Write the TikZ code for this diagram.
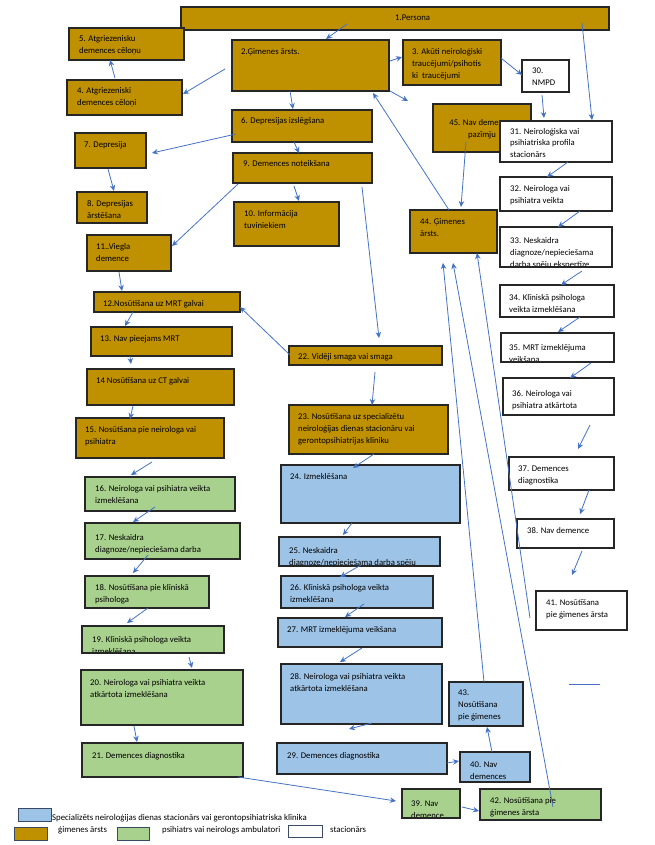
\documentclass[tikz,border=0pt]{standalone}
\usepackage{fontspec}
\setmainfont{Carlito}
\usetikzlibrary{arrows.meta}
\definecolor{goldf}{HTML}{BF9000}
\definecolor{greenf}{HTML}{A9D18E}
\definecolor{bluef}{HTML}{9DC3E6}
\definecolor{arrowblue}{HTML}{4472C4}
\definecolor{legb}{HTML}{3A4A66}
\begin{document}
\begin{tikzpicture}[x=1pt,y=-1pt,
  bx/.style={draw=black!85, line width=1.2pt, anchor=north west, inner sep=0pt, outer sep=0pt},
  goldbox/.style={bx, fill=goldf},
  greenbox/.style={bx, fill=greenf},
  bluebox/.style={bx, fill=bluef},
  whitebox/.style={bx, fill=white},
  tx/.style={anchor=base west, inner sep=0pt, align=left, font=\fontsize{8.7}{12}\selectfont},
  lt/.style={anchor=base west, inner sep=0pt, font=\fontsize{8.8}{10}\selectfont},
  legbox/.style={line width=0.8pt, draw=legb},
  arr/.style={draw=arrowblue, line width=0.8pt, -{Stealth[length=6pt,width=5.5pt]}},
  plainline/.style={draw=arrowblue, line width=0.8pt},
  ]
\useasboundingbox (0,0) rectangle (655,845);

% ---------- boxes (multi-line texts are placed by the baseline of their last line) ----------
\node[goldbox, minimum width=428pt, minimum height=23pt] (b1) at (181,7) {};
\node[tx] (t1) at (395,21) {1.Persona};
\node[goldbox, minimum width=157pt, minimum height=51pt] (b2) at (232,40) {};
\node[tx] (t2) at (241,55) {2.Ģimenes ārsts.};
\node[goldbox, minimum width=98pt, minimum height=45pt] (b3) at (403,40) {};
\node[tx] (t3) at (412,79) {3. Akūti neiroloģiski\\traucējumi/psihotis\\ki\ \ traucējumi};
\node[goldbox, minimum width=115pt, minimum height=35pt] (b4) at (67,80) {};
\node[tx] (t4) at (77,106) {4. Atgriezeniski\\demences cēloņi};
\node[goldbox, minimum width=115pt, minimum height=32pt] (b5) at (69,28) {};
\node[tx] (t5) at (79,54) {5. Atgriezenisku\\demences cēloņu};
\node[goldbox, minimum width=140pt, minimum height=32pt] (b6) at (232,110) {};
\node[tx] (t6) at (241,124) {6. Depresijas izslēgšana};
\node[goldbox, minimum width=71pt, minimum height=35pt] (b7) at (75,133) {};
\node[tx] (t7) at (84,148) {7. Depresija};
\node[goldbox, minimum width=70pt, minimum height=31pt] (b8) at (77,192) {};
\node[tx] (t8) at (87,218) {8. Depresijas\\ārstēšana};
\node[goldbox, minimum width=139pt, minimum height=30pt] (b9) at (233,153) {};
\node[tx] (t9) at (243,167) {9. Demences noteikšana};
\node[goldbox, minimum width=105pt, minimum height=44pt] (b10) at (234,202) {};
\node[tx] (t10) at (244,228) {10. Informācija\\tuviniekiem};
\node[goldbox, minimum width=84pt, minimum height=36pt] (b11) at (87,235) {};
\node[tx] (t11) at (96,261) {11..Viegla\\demence};
\node[goldbox, minimum width=146pt, minimum height=20pt] (b12) at (94,292) {};
\node[tx] (t12) at (103,306) {12.Nosūtīšana uz MRT galvai};
\node[goldbox, minimum width=141pt, minimum height=29pt] (b13) at (91,327) {};
\node[tx] (t13) at (100,341) {13. Nav pieejams MRT};
\node[goldbox, minimum width=147pt, minimum height=36pt] (b14) at (87,369) {};
\node[tx] (t14) at (96,383) {14 Nosūtīšana uz CT galvai};
\node[goldbox, minimum width=148pt, minimum height=40pt] (b15) at (76,418) {};
\node[tx] (t15) at (85,444) {15. Nosūtšana pie neirologa vai\\psihiatra};
\node[goldbox, minimum width=153pt, minimum height=19pt] (b22) at (289,346) {};
\node[tx] (t22) at (298,359) {22. Vidēji smaga vai smaga};
\node[goldbox, minimum width=159pt, minimum height=49pt] (b23) at (289,405) {};
\node[tx] (t23) at (298,443) {23. Nosūtīšana uz specializētu\\neiroloģijas dienas stacionāru vai\\gerontopsihiatrijas klīniku};
\node[goldbox, minimum width=87pt, minimum height=43pt] (b44) at (410,210) {};
\node[tx] (t44) at (420,236) {44. Ģimenes\\ārsts.};
\node[goldbox, minimum width=98pt, minimum height=48pt] (b45) at (433,104) {};
\node[tx, anchor=base, align=center] (t45) at (482,138) {45. Nav demences\\pazīmju};

% green
\node[greenbox, minimum width=150pt, minimum height=34pt] (b16) at (85,477) {};
\node[tx] (t16) at (95,503) {16. Neirologa vai psihiatra veikta\\izmeklēšana};
\node[greenbox, minimum width=155pt, minimum height=36pt] (b17) at (85,523) {};
\begin{scope}
\clip ([shift={(1.2,1.2)}]b17.north west) rectangle ([shift={(-1.2,-1.2)}]b17.south east);
\node[tx] (t17) at (95,564) {17. Neskaidra\\diagnoze/nepieciešama darba\\spēju ekspertīze};
\end{scope}
\node[greenbox, minimum width=124pt, minimum height=32pt] (b18) at (85,576) {};
\node[tx] (t18) at (95,602) {18. Nosūtīšana pie klīniskā\\psihologa};
\node[greenbox, minimum width=142pt, minimum height=27pt] (b19) at (82,626) {};
\begin{scope}
\clip ([shift={(1.2,1.2)}]b19.north west) rectangle ([shift={(-1.2,-1.2)}]b19.south east);
\node[tx] (t19) at (92,654) {19. Klīniskā psihologa veikta\\izmeklēšana};
\end{scope}
\node[greenbox, minimum width=162pt, minimum height=55pt] (b20) at (81,670) {};
\node[tx] (t20) at (90,697) {20. Neirologa vai psihiatra veikta\\atkārtota izmeklēšana};
\node[greenbox, minimum width=161pt, minimum height=34pt] (b21) at (82,743) {};
\node[tx] (t21) at (92,758) {21. Demences diagnostika};
\node[greenbox, minimum width=58pt, minimum height=29pt] (b39) at (402,789) {};
\begin{scope}
\clip ([shift={(1.2,1.2)}]b39.north west) rectangle ([shift={(-1.2,-1.2)}]b39.south east);
\node[tx] (t39) at (411,818) {39. Nav\\demence};
\end{scope}
\node[greenbox, minimum width=121pt, minimum height=31pt] (b42) at (480,789) {};
\node[tx] (t42) at (490,815) {42. Nosūtīšana pie\\ģimenes ārsta};

% blue
\node[bluebox, minimum width=179pt, minimum height=58pt] (b24) at (281,465) {};
\node[tx] (t24) at (290,479) {24. Izmeklēšana};
\node[bluebox, minimum width=161pt, minimum height=29pt] (b25) at (279,537) {};
\begin{scope}
\clip ([shift={(1.2,1.2)}]b25.north west) rectangle ([shift={(-1.2,-1.2)}]b25.south east);
\node[tx] (t25) at (289,565) {25. Neskaidra\\diagnoze/nepieciešama darba spēju};
\end{scope}
\node[bluebox, minimum width=152pt, minimum height=32pt] (b26) at (281,576) {};
\node[tx] (t26) at (290,602) {26. Klīniskā psihologa veikta\\izmeklēšana};
\node[bluebox, minimum width=164pt, minimum height=29pt] (b27) at (278,618) {};
\node[tx] (t27) at (287,632) {27. MRT izmeklējuma veikšana};
\node[bluebox, minimum width=161pt, minimum height=60pt] (b28) at (281,664) {};
\node[tx] (t28) at (290,691) {28. Neirologa vai psihiatra veikta\\atkārtota izmeklēšana};
\node[bluebox, minimum width=170pt, minimum height=31pt] (b29) at (277,743) {};
\node[tx] (t29) at (287,758) {29. Demences diagnostika};
\node[bluebox, minimum width=74pt, minimum height=44pt] (b43) at (449,682) {};
\node[tx] (t43) at (458,719) {43.\\Nosūtīšana\\pie ģimenes};
\node[bluebox, minimum width=70pt, minimum height=30pt] (b40) at (460,752) {};
\node[tx] (t40) at (470,779) {40. Nav\\demences};

% white
\node[whitebox, minimum width=47pt, minimum height=32pt] (b30) at (522,60) {};
\node[tx] (t30) at (532,86) {30.\\NMPD};
\node[whitebox, minimum width=112pt, minimum height=41pt] (b31) at (500,121) {};
\node[tx] (t31) at (510,158) {31. Neiroloģiska vai\\psihiatriska profila\\stacionārs};
\node[whitebox, minimum width=112pt, minimum height=34pt] (b32) at (500,177) {};
\node[tx] (t32) at (510,203) {32. Neirologa vai\\psihiatra veikta};
\node[whitebox, minimum width=112pt, minimum height=40pt] (b33) at (500,227) {};
\begin{scope}
\clip ([shift={(1.2,1.2)}]b33.north west) rectangle ([shift={(-1.2,-1.2)}]b33.south east);
\node[tx] (t33) at (510,267) {33. Neskaidra\\diagnoze/nepieciešama\\darba spēju ekspertīze};
\end{scope}
\node[whitebox, minimum width=114pt, minimum height=32pt] (b34) at (500,285) {};
\node[tx] (t34) at (509,312) {34. Klīniskā psihologa\\veikta izmeklēšana};
\node[whitebox, minimum width=113pt, minimum height=29pt] (b35) at (501,333) {};
\begin{scope}
\clip ([shift={(1.2,1.2)}]b35.north west) rectangle ([shift={(-1.2,-1.2)}]b35.south east);
\node[tx] (t35) at (509,362) {35. MRT izmeklējuma\\veikšana};
\end{scope}
\node[whitebox, minimum width=111pt, minimum height=37pt] (b36) at (503,378) {};
\begin{scope}
\clip ([shift={(1.2,1.2)}]b36.north west) rectangle ([shift={(-1.2,-1.2)}]b36.south east);
\node[tx] (t36) at (512,420) {36. Neirologa vai\\psihiatra atkārtota\\izmeklēšana};
\end{scope}
\node[whitebox, minimum width=105pt, minimum height=33pt] (b37) at (509,457) {};
\node[tx] (t37) at (518,483) {37. Demences\\diagnostika};
\node[whitebox, minimum width=97pt, minimum height=29pt] (b38) at (517,519) {};
\node[tx] (t38) at (527,533) {38. Nav demence};
\node[whitebox, minimum width=91pt, minimum height=39pt] (b41) at (536,591) {};
\node[tx] (t41) at (546,617) {41. Nosūtīšana\\pie ģimenes ārsta};

% ---------- connectors ----------
\draw[arr] ([shift={(166,17)}]b1.north west) -- ([shift={(94,-1)}]b2.north west);
\draw[arr] ([shift={(-7,29)}]b2.north west) -- ([shift={(116,14)}]b4.north west);
\draw[arr] ([shift={(48,-2)}]b4.north west) -- ([shift={(41,32)}]b5.north west);
\draw[arr] ([shift={(58,51)}]b2.north west) -- ([shift={(61,-1)}]b6.north west);
\draw[arr] ([shift={(158,21)}]b2.north west) -- ([shift={(-1,17)}]b3.north west);
\draw[arr] ([shift={(158,51)}]b2.north west) -- ([shift={(-25,-3)}]b45.north west);
\draw[arr] ([shift={(98,18)}]b3.north west) -- ([shift={(0,15)}]b30.north west);
\draw[arr] ([shift={(20,35)}]b30.north west) -- ([shift={(44,-3)}]b31.north west);
\draw[arr] ([shift={(401,16)}]b1.north west) -- ([shift={(92,-1)}]b31.north west);
\draw[arr] ([shift={(39,0)}]b44.north west) -- ([shift={(141,53)}]b2.north west);
\draw[arr] ([shift={(33,38)}]b45.north west) -- ([shift={(51,-3)}]b44.north west);
\draw[arr] ([shift={(68,41)}]b31.north west) -- ([shift={(47,0)}]b32.north west);
\draw[arr] ([shift={(80,34)}]b32.north west) -- ([shift={(58,0)}]b33.north west);
\draw[arr] ([shift={(82,44)}]b33.north west) -- ([shift={(61,0)}]b34.north west);
\draw[arr] ([shift={(80,32)}]b34.north west) -- ([shift={(57,-1)}]b35.north west);
\draw[arr] ([shift={(90,30)}]b35.north west) -- ([shift={(67,0)}]b36.north west);
\draw[arr] ([shift={(87,47)}]b36.north west) -- ([shift={(69,-8)}]b37.north west);
\draw[arr] ([shift={(80,33)}]b37.north west) -- ([shift={(63,-5)}]b38.north west);
\draw[arr] ([shift={(65,32)}]b38.north west) -- ([shift={(36,-16)}]b41.north west);
\draw[arr] ([shift={(4,24)}]b6.north west) -- ([shift={(77,20)}]b7.north west);
\draw[arr] ([shift={(62,32)}]b6.north west) -- ([shift={(66,0)}]b9.north west);
\draw[arr] ([shift={(33,36)}]b7.north west) -- ([shift={(37,-1)}]b8.north west);
\draw[arr] ([shift={(61,33)}]b9.north west) -- ([shift={(65,-1)}]b10.north west);
\draw[arr] ([shift={(5,31)}]b9.north west) -- ([shift={(85,11)}]b11.north west);
\draw[arr] ([shift={(129,34)}]b9.north west) -- ([shift={(90,-8)}]b22.north west);
\draw[arr] ([shift={(32,37)}]b11.north west) -- ([shift={(28,-1)}]b12.north west);
\draw[arr] ([shift={(39,20)}]b12.north west) -- ([shift={(34,-1)}]b13.north west);
\draw[arr] ([shift={(39,29)}]b13.north west) -- ([shift={(44,-5)}]b14.north west);
\draw[arr] ([shift={(46,37)}]b14.north west) -- ([shift={(54,1)}]b15.north west);
\draw[arr] ([shift={(1,9)}]b22.north west) -- ([shift={(146,15)}]b12.north west);
\draw[arr] ([shift={(86,26)}]b22.north west) -- ([shift={(83,0)}]b23.north west);
\draw[arr] ([shift={(76,44)}]b15.north west) -- ([shift={(46,-2)}]b16.north west);
\draw[arr] ([shift={(70,30)}]b16.north west) -- ([shift={(48,-1)}]b17.north west);
\draw[arr] ([shift={(63,32)}]b17.north west) -- ([shift={(48,-3)}]b18.north west);
\draw[arr] ([shift={(63,32)}]b18.north west) -- ([shift={(45,-3)}]b19.north west);
\draw[arr] ([shift={(107,31)}]b19.north west) -- ([shift={(111,-2)}]b20.north west);
\draw[arr] ([shift={(53,56)}]b20.north west) -- ([shift={(55,-1)}]b21.north west);
\draw[arr] ([shift={(156,34)}]b21.north west) -- ([shift={(-6,12)}]b39.north west);
\draw[arr] ([shift={(85,49)}]b23.north west) -- ([shift={(72,3)}]b24.north west);
\draw[arr] ([shift={(71,58)}]b24.north west) -- ([shift={(64,-2)}]b25.north west);
\draw[arr] ([shift={(82,28)}]b25.north west) -- ([shift={(59,1)}]b26.north west);
\draw[arr] ([shift={(83,28)}]b26.north west) -- ([shift={(67,-1)}]b27.north west);
\draw[arr] ([shift={(84,30)}]b27.north west) -- ([shift={(59,-2)}]b28.north west);
\draw[arr] ([shift={(91,59)}]b28.north west) -- ([shift={(72,-14)}]b29.north west);
\draw[arr] ([shift={(170,20)}]b29.north west) -- ([shift={(-1,9)}]b40.north west);
\draw[arr] ([shift={(32,0)}]b40.north west) -- ([shift={(38,45)}]b43.north west);
\draw[arr] ([shift={(60,18)}]b39.north west) -- ([shift={(-1,22)}]b42.north west);
\draw[arr] ([shift={(35,0)}]b43.north west) -- ([shift={(33,53)}]b44.north west);
\draw[arr] ([shift={(73,18)}]b42.north west) -- ([shift={(43,53)}]b44.north west);
\draw[arr] ([shift={(-6,27)}]b41.north west) -- ([shift={(67,43)}]b44.north west);
\coordinate (s1) at (569,684);
\coordinate (s2) at (600,684);
\draw[plainline] (s1) -- (s2);

% ---------- legend ----------
\node[bluebox, legbox, minimum width=33pt, minimum height=13pt] (lb) at (18,808) {};
\node[lt] (ltb) at (52,820) {Specializēts neiroloģijas dienas stacionārs vai gerontopsihiatriska klīnika};
\node[goldbox, legbox, minimum width=33pt, minimum height=13pt] (lg) at (14,827) {};
\node[lt] (ltg) at (58,832) {ģimenes ārsts};
\node[greenbox, legbox, minimum width=32pt, minimum height=13pt] (lgr) at (117,827) {};
\node[lt] (ltgr) at (162,832) {psihiatrs vai neirologs ambulatori};
\node[whitebox, legbox, minimum width=34pt, minimum height=12pt] (lw) at (288,825) {};
\node[lt] (ltw) at (330,832) {stacionārs};
\end{tikzpicture}
\end{document}
